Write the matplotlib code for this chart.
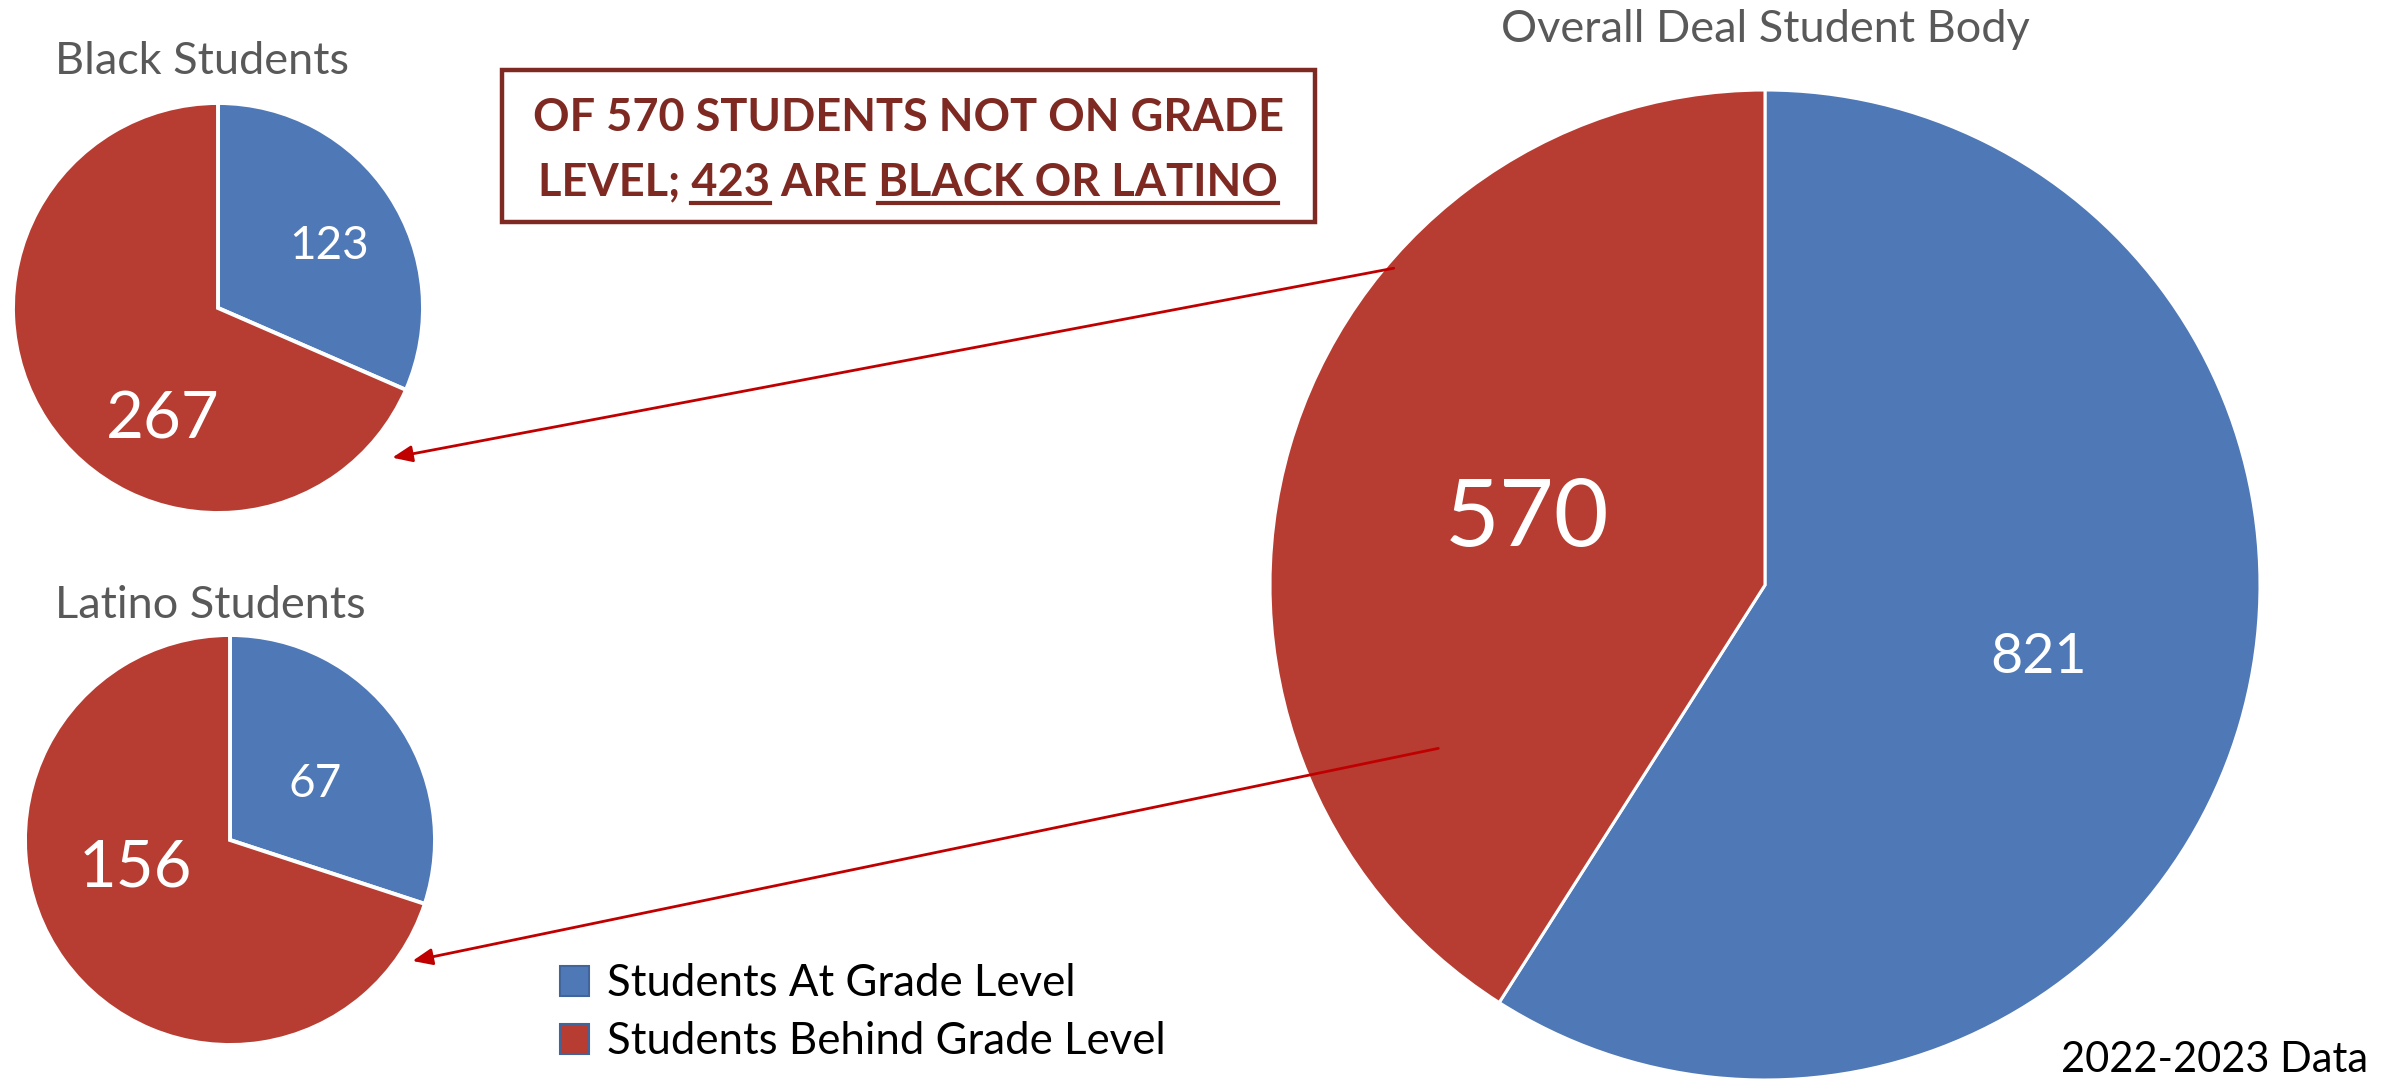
import matplotlib
matplotlib.use('Agg')
import matplotlib.pyplot as plt
from matplotlib.patches import Patch, Rectangle, ConnectionPatch
from matplotlib.lines import Line2D

plt.rcParams['font.family'] = ['Lato', 'DejaVu Sans']

# data
categories = ['Students At Grade Level', 'Students Behind Grade Level']
black_vals = [123, 267]
latino_vals = [67, 156]
overall_vals = [821, 570]
titles = ['Black Students', 'Latino Students', 'Overall Deal Student Body']
headline = ['OF 570 STUDENTS NOT ON GRADE', 'LEVEL; 423 ARE BLACK OR LATINO']
note = '2022-2023 Data'

colors = ['#4F78B6', '#B73D32']
dark_red = '#7E2A22'
arrow_red = '#C00000'
gray = '#595959'

W, H = 2392, 1081
fig = plt.figure(figsize=(W / 100, H / 100), dpi=100)


def fx(x):
    return x / W


def fy(y):
    return 1 - y / H


def pie_axes(cx, cy, r):
    return fig.add_axes([fx(cx - r), fy(cy + r), 2 * r / W, 2 * r / H])


def draw_pie(ax, vals, label_pos, sizes, lw):
    ax.pie(vals, colors=colors, startangle=90, counterclock=False,
           wedgeprops=dict(edgecolor='white', linewidth=lw))
    ax.set_xlim(-1, 1)
    ax.set_ylim(-1, 1)
    ax.set_aspect('equal')
    ax.axis('off')
    for v, (x, y), s in zip(vals, label_pos, sizes):
        ax.text(x, y, str(v), ha='center', va='baseline', color='white', fontsize=s)


ax_black = pie_axes(218, 308, 205)
draw_pie(ax_black, black_vals, [(0.54, 0.237), (-0.268, -0.637)], [33, 47], 2.8)

ax_latino = pie_axes(230, 840, 205)
draw_pie(ax_latino, latino_vals, [(0.415, 0.212), (-0.463, -0.227)], [33, 47], 2.8)

ax_all = pie_axes(1765, 585, 495)
draw_pie(ax_all, overall_vals, [(0.552, -0.178), (-0.481, 0.079)], [40, 68], 2.2)

# titles
fig.text(fx(202), fy(74), titles[0], ha='center', va='baseline', fontsize=32.5, color=gray)
fig.text(fx(210), fy(618), titles[1], ha='center', va='baseline', fontsize=32.5, color=gray)
fig.text(fx(1765), fy(42), titles[2], ha='center', va='baseline', fontsize=32.5, color=gray)

# arrows from big pie to the small ones
for ax_to, a, b in [(ax_black, (-0.75, 0.64), (0.85, -0.73)),
                    (ax_latino, (-0.66, -0.33), (0.89, -0.59))]:
    con = ConnectionPatch(xyA=a, coordsA=ax_all.transData, xyB=b, coordsB=ax_to.transData,
                          arrowstyle='-|>,head_length=1.2,head_width=0.5', mutation_scale=10,
                          color=arrow_red, linewidth=2)
    fig.add_artist(con)

# headline box
fig.add_artist(Rectangle((fx(502), fy(222)), (1315 - 502) / W, (222 - 70) / H,
                         transform=fig.transFigure, fill=False, edgecolor=dark_red, linewidth=3.2))
xc = 908
hsize = 32.5
fig.text(fx(xc), fy(131), headline[0], ha='center', va='baseline', fontsize=hsize,
         fontweight='bold', color=dark_red)
t2 = fig.text(fx(xc), fy(195), headline[1], ha='center', va='baseline', fontsize=hsize,
              fontweight='bold', color=dark_red)

fig.canvas.draw()
rend = fig.canvas.get_renderer()


def text_w(s):
    t = fig.text(0, 0, s, fontsize=hsize, fontweight='bold')
    w = t.get_window_extent(rend).width
    t.remove()
    return w


full_w = t2.get_window_extent(rend).width
left = xc - full_w / 2
right = xc + full_w / 2
e423 = left + text_w('LEVEL; 423')
s423 = e423 - text_w('423')
sbl = right - text_w('BLACK OR LATINO')
for x0, x1 in [(s423, e423), (sbl, right)]:
    fig.add_artist(Line2D([fx(x0), fx(x1)], [fy(203), fy(203)], transform=fig.transFigure,
                          color=dark_red, linewidth=3))

# legend
handles = [Patch(facecolor=c, edgecolor='#41659A', linewidth=1.5) for c in colors]
fig.legend(handles, categories, loc='upper left', bbox_to_anchor=(fx(560), fy(963)),
           frameon=False, fontsize=31.5, handlelength=0.67, handleheight=0.67,
           handletextpad=0.41, labelspacing=0.4, borderpad=0, borderaxespad=0)

fig.text(fx(2368), fy(1072), note, ha='right', va='baseline', fontsize=30, color='black')

fig.savefig('out.png', dpi=100)
